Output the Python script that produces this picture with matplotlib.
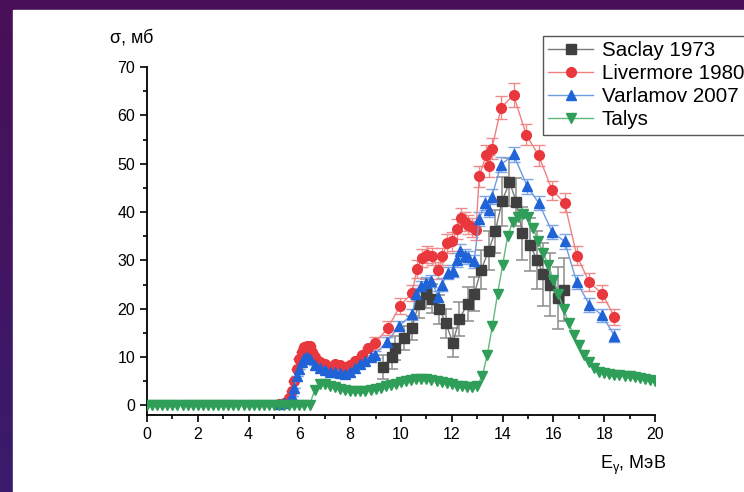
import numpy as np
import matplotlib.pyplot as plt
from matplotlib.patches import Rectangle
from matplotlib.ticker import MultipleLocator

plt.rcParams['font.family'] = ['Liberation Sans', 'DejaVu Sans']

# Saclay 1973
e_saclay = [9.30, 9.63, 9.76, 10.13, 10.42, 10.70, 11.00, 11.23, 11.51, 11.77, 12.04, 12.30,
            12.62, 12.88, 13.16, 13.45, 13.71, 13.98, 14.27, 14.54, 14.78, 15.08, 15.35, 15.61,
            15.88, 16.17, 16.43]
s_saclay = [8.0, 10.0, 11.9, 13.9, 16.0, 21.0, 23.1, 22.1, 19.9, 17.0, 12.9, 17.9,
            21.0, 23.0, 28.1, 32.0, 36.0, 42.2, 46.2, 42.1, 35.6, 33.2, 30.1, 27.1,
            25.0, 22.2, 23.9]
err_saclay = [2.5, 2.5, 2.5, 2.5, 2.5, 3.0, 3.0, 3.0, 3.0, 3.0, 3.0, 3.5,
              3.5, 3.5, 4.0, 4.0, 4.5, 5.0, 5.0, 5.0, 5.5, 5.5, 6.0, 6.5,
              6.5, 6.5, 6.5]

# Livermore 1980
e_liv = [5.2, 5.4, 5.6, 5.7, 5.8, 5.9, 6.0, 6.1, 6.2, 6.3, 6.4, 6.5, 6.6, 6.8, 7.0, 7.2,
         7.4, 7.6, 7.8, 8.0, 8.2, 8.45, 8.72, 8.98, 9.48, 9.97, 10.44, 10.63, 10.83, 11.03,
         11.23, 11.47, 11.63, 11.82, 12.02, 12.20, 12.35, 12.50, 12.62, 12.78, 12.95, 13.08,
         13.35, 13.48, 13.58, 13.94, 14.43, 14.93, 15.42, 15.95, 16.44, 16.92, 17.41, 17.92,
         18.40]
s_liv = [0.3, 0.5, 1.5, 3.0, 5.0, 7.5, 9.5, 11.0, 12.0, 12.3, 12.2, 11.0, 10.0, 9.0, 8.5, 8.0,
         8.5, 8.3, 7.9, 8.4, 9.2, 10.5, 11.9, 12.9, 16.0, 20.6, 23.3, 28.2, 30.5, 31.2,
         30.8, 27.9, 30.8, 33.5, 33.9, 36.5, 38.8, 38.0, 37.4, 36.8, 36.2, 47.4,
         51.7, 49.5, 53.1, 61.6, 64.2, 56.0, 51.7, 44.5, 41.9, 31.0, 25.5, 23.1,
         18.3]
err_liv = [0] * 23 + [1.2, 1.5, 1.6, 1.7, 1.8, 1.8, 1.8,
                      1.8, 1.8, 1.8, 1.9, 1.9, 2.0, 2.0, 2.0, 2.0, 2.0, 2.0, 2.2,
                      2.2, 2.2, 2.2, 2.4, 2.4, 2.2, 2.2, 2.0, 2.0, 2.0, 1.8, 1.8,
                      1.6]

# Varlamov 2007
e_var = [5.2, 5.4, 5.6, 5.7, 5.8, 5.9, 6.0, 6.1, 6.2, 6.3, 6.4, 6.6, 6.8, 7.0, 7.2, 7.4,
         7.6, 7.8, 8.0, 8.2, 8.4, 8.6, 8.8, 8.96, 9.46, 9.94, 10.44, 10.61, 10.80, 11.00,
         11.20, 11.47, 11.60, 11.86, 12.05, 12.20, 12.33, 12.50, 12.65, 12.88, 13.08, 13.32,
         13.48, 13.58, 13.94, 14.43, 14.97, 15.42, 15.95, 16.44, 16.92, 17.42, 17.92, 18.40]
s_var = [0.3, 0.5, 1.0, 2.0, 3.5, 6.0, 7.5, 9.0, 9.8, 10.0, 9.5, 8.3, 7.7, 7.4, 7.0, 6.8,
         6.6, 6.5, 7.0, 7.8, 8.6, 9.2, 10.0, 10.5, 13.2, 16.5, 18.8, 23.1, 24.6, 25.3,
         25.7, 22.5, 25.0, 27.4, 27.8, 30.1, 31.9, 31.0, 30.6, 29.8, 38.6, 41.9,
         40.5, 43.2, 49.8, 51.9, 45.3, 41.9, 35.9, 33.9, 25.5, 20.8, 18.6, 14.4]
err_var = [0] * 23 + [0.8, 1.0, 1.0, 1.2, 1.2, 1.2, 1.2,
                      1.2, 1.2, 1.3, 1.3, 1.3, 1.4, 1.4, 1.4, 1.4, 1.4, 1.5, 1.5,
                      1.5, 1.5, 1.6, 1.6, 1.6, 1.5, 1.5, 1.5, 1.4, 1.4, 1.3, 1.3]

# Talys
e_talys = [0.0, 0.2, 0.4, 0.6, 0.8, 1.0, 1.2, 1.4, 1.6, 1.8, 2.0, 2.2, 2.4, 2.6, 2.8, 3.0,
           3.2, 3.4, 3.6, 3.8, 4.0, 4.2, 4.4, 4.6, 4.8, 5.0, 5.2, 5.4, 5.6, 5.8, 6.0, 6.2,
           6.4, 6.6, 6.8, 7.0, 7.2, 7.4, 7.6, 7.8, 8.0, 8.2, 8.4, 8.6, 8.8, 9.0, 9.2, 9.4,
           9.6, 9.8, 10.0, 10.2, 10.4, 10.6, 10.8, 11.0, 11.2, 11.4, 11.6, 11.8, 12.0, 12.2,
           12.4, 12.6, 12.8, 13.0, 13.2, 13.4, 13.6, 13.8, 14.0, 14.2, 14.4, 14.6, 14.8, 15.0,
           15.2, 15.4, 15.6, 15.8, 16.0, 16.2, 16.4, 16.6, 16.8, 17.0, 17.2, 17.4, 17.6, 17.8,
           18.0, 18.2, 18.4, 18.6, 18.8, 19.0, 19.2, 19.4, 19.6, 19.8, 20.0]
s_talys = [0.0] * 33 + [3.2, 4.4, 4.5, 4.1, 3.7, 3.4, 3.1, 3.0, 2.9, 2.9, 3.0, 3.2, 3.4, 3.6,
                        3.9, 4.2, 4.5, 4.8, 5.1, 5.3, 5.4, 5.5, 5.4, 5.3, 5.1, 4.9, 4.6, 4.4,
                        4.1, 3.9, 3.8, 3.8, 4.0, 6.1, 10.5, 16.5, 23.0, 29.0, 35.0, 38.0, 39.0,
                        39.6, 38.9, 36.6, 34.0, 31.5, 29.0, 26.0, 23.0, 20.0, 17.0, 14.5, 12.5,
                        10.5, 9.0, 7.8, 7.0, 6.6, 6.4, 6.3, 6.2, 6.1, 6.0, 5.8, 5.6, 5.4, 5.2,
                        5.0]

fig = plt.figure(figsize=(7.44, 4.92), dpi=100)

# slide background: purple gradient with a white panel
bg = fig.add_axes([0, 0, 1, 1], zorder=-10)
grad = np.linspace(0, 1, 256).reshape(-1, 1)
top = np.array([0x4a, 0x0f, 0x58]) / 255
bot = np.array([0x3a, 0x1b, 0x6c]) / 255
img = top + grad[..., None] * (bot - top)
bg.imshow(img, aspect='auto', extent=[0, 1, 0, 1], origin='upper')
bg.add_patch(Rectangle((13 / 744, 0), 1, 1 - 10 / 492, color='white'))
bg.set_xlim(0, 1)
bg.set_ylim(0, 1)
bg.axis('off')

ax = fig.add_axes([147 / 744, 1 - 415 / 492, 508 / 744, 348 / 492])
ax.patch.set_alpha(0)

ax.errorbar(e_saclay, s_saclay, yerr=err_saclay, fmt='none', ecolor='#8c8c8c',
            elinewidth=1.1, capsize=4, capthick=1.1, zorder=2)
ax.errorbar(e_liv, s_liv, yerr=err_liv, fmt='none', ecolor='#ef8a8a',
            elinewidth=1.0, capsize=4, capthick=1.0, zorder=2)
ax.errorbar(e_var, s_var, yerr=err_var, fmt='none', ecolor='#7fa5e6',
            elinewidth=1.0, capsize=4, capthick=1.0, zorder=2)

l1, = ax.plot(e_saclay, s_saclay, '-s', color='#7a7a7a', mfc='#3f3f3f', mec='#3f3f3f',
              ms=6.5, lw=1.0, zorder=3, label='Saclay 1973')
l2, = ax.plot(e_liv, s_liv, '-o', color='#f08080', mfc='#e8383d', mec='#e8383d',
              ms=7, lw=1.0, zorder=3, label='Livermore 1980')
l3, = ax.plot(e_var, s_var, '-^', color='#6c9be0', mfc='#1f63d6', mec='#1f63d6',
              ms=7.5, lw=1.0, zorder=4, label='Varlamov 2007')
l4, = ax.plot(e_talys, s_talys, '-v', color='#5dbb7c', mfc='#2e9e58', mec='#2e9e58',
              ms=7.5, lw=1.0, zorder=5, label='Talys')

ax.set_xlim(0, 20)
ax.set_ylim(-2, 70)
ax.xaxis.set_major_locator(MultipleLocator(2))
ax.xaxis.set_minor_locator(MultipleLocator(1))
ax.yaxis.set_major_locator(MultipleLocator(10))
ax.yaxis.set_minor_locator(MultipleLocator(5))
for side in ['top', 'right']:
    ax.spines[side].set_visible(False)
for side in ['left', 'bottom']:
    ax.spines[side].set_linewidth(1.3)
ax.tick_params(which='major', direction='out', length=5, width=1.2, labelsize=11.5)
ax.tick_params(which='minor', direction='out', length=3, width=1.2)

fig.text(132 / 744, 1 - 38 / 492, 'σ, мб', ha='center', va='center', fontsize=13)
fig.text(633 / 744, 1 - 465 / 492, 'E$_\\mathregular{γ}$, МэВ', ha='center', va='center',
         fontsize=13)

fig.legend(handles=[l1, l2, l3, l4], loc='upper left',
           bbox_to_anchor=(543 / 744, 1 - 36 / 492), borderaxespad=0,
           fontsize=14.8, numpoints=1, handlelength=2.2, handletextpad=0.4,
           labelspacing=0.2, borderpad=0.25, frameon=True, fancybox=False,
           edgecolor='#555555', framealpha=1)

fig.savefig('out.png', dpi=100)
